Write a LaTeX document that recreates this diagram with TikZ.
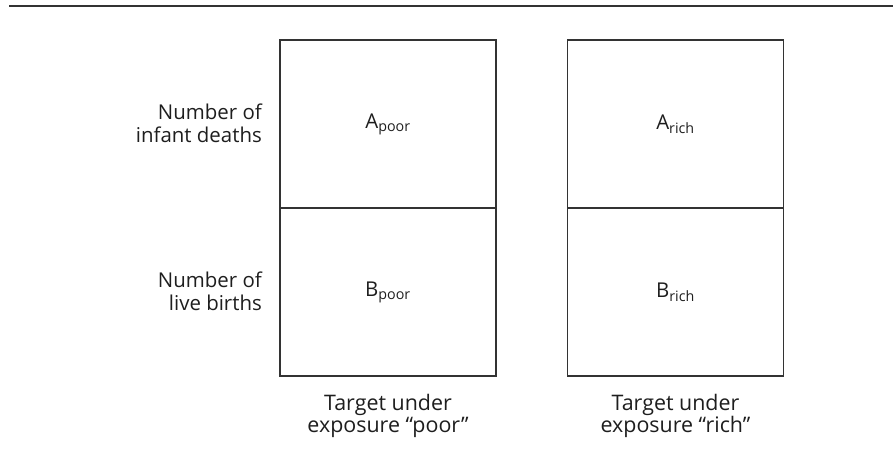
\documentclass[tikz,border=0pt]{standalone}
\usepackage{fontspec}
\setmainfont{Open Sans}
\definecolor{ink}{HTML}{1E1E1E}
\definecolor{rule}{HTML}{333333}
\begin{document}
\begin{tikzpicture}[x=1bp,y=-1bp,
  lbl/.style={text=ink,font=\fontsize{20.5}{23}\selectfont},
  cell/.style={lbl,draw=rule,line width=1.3bp,minimum width=216bp,minimum height=168bp,
    inner sep=0pt},
  rowlabel/.style={lbl,anchor=east,align=right,inner sep=0pt},
  collabel/.style={lbl,anchor=center,align=center,inner sep=0pt,
    font=\fontsize{21.5}{22.5}\selectfont}]
  \useasboundingbox (0,0) rectangle (893,467);

  % heading rule
  \coordinate (ruleL) at (9,6);
  \coordinate (ruleR) at (893,6);
  \draw[rule,line width=2bp] (ruleL) -- (ruleR);

  % the four cells
  \node[cell] (apoor) at (388,124) {A\textsubscript{poor}};
  \node[cell] (bpoor) at (388,292) {B\textsubscript{poor}};
  \node[cell] (arich) at (675.5,124) {A\textsubscript{rich}};
  \node[cell] (brich) at (675.5,292) {B\textsubscript{rich}};

  % row labels
  \node[rowlabel] (deaths) at (262,123) {Number of\\infant deaths};
  \node[rowlabel] (births) at (262,291) {Number of\\live births};

  % column labels
  \node[collabel] (tpoor) at (388,416) {Target under\\exposure “poor”};
  \node[collabel] (trich) at (675.5,416) {Target under\\exposure “rich”};
\end{tikzpicture}
\end{document}
